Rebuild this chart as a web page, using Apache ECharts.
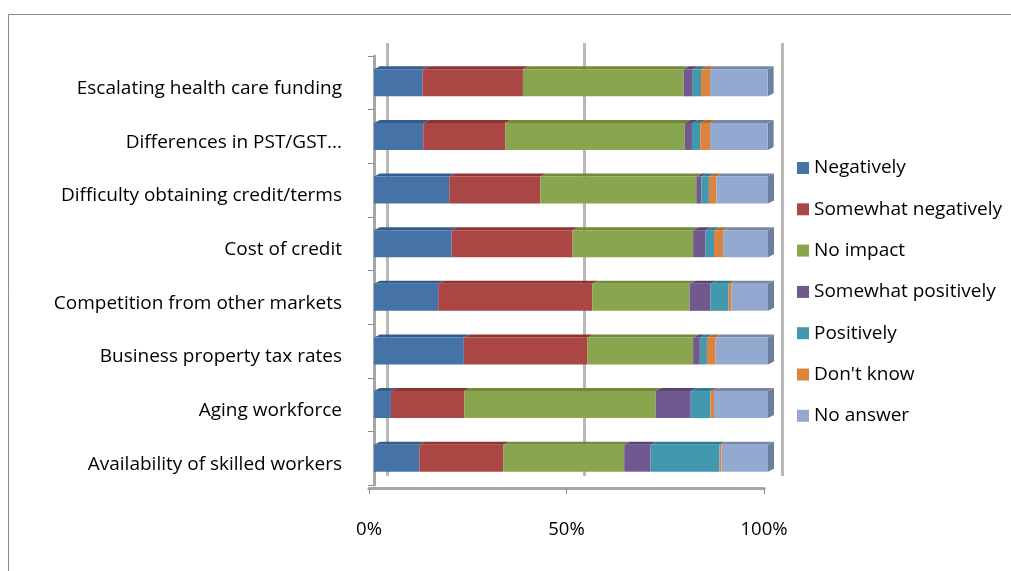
<!DOCTYPE html>
<html>
<head>
<meta charset="utf-8">
<script src="https://cdn.jsdelivr.net/npm/echarts@6/dist/echarts.min.js"></script>
<style>
html,body{margin:0;padding:0;background:#fff;}
#main{width:1011px;height:571px;}
</style>
</head>
<body>
<div id="main"></div>
<script>
// categories, top to bottom
var factors = ['Escalating health care funding', 'Differences in PST/GST...', 'Difficulty obtaining credit/terms',
	'Cost of credit', 'Competition from other markets', 'Business property tax rates',
	'Aging workforce', 'Availability of skilled workers'];
var answerNames = ['Negatively', 'Somewhat negatively', 'No impact', 'Somewhat positively', 'Positively', "Don't know", 'No answer'];

// share of answers (%), same order as factors
var negatively  = [12.3, 12.5, 19.1, 19.7, 16.3, 22.8,  4.3, 11.5];
var somewhatNeg = [25.5, 20.8, 23.1, 30.7, 39.1, 31.4, 18.6, 21.3];
var noImpact    = [40.8, 45.6, 39.6, 30.6, 24.7, 26.8, 48.6, 30.7];
var somewhatPos = [ 2.3,  1.8,  1.3,  3.1,  5.3,  1.7,  8.9,  6.7];
var positively  = [ 2.1,  2.1,  1.9,  2.2,  4.6,  1.8,  5.0, 17.5];
var dontKnow    = [ 2.3,  2.5,  1.9,  2.3,  0.7,  2.2,  0.9,  0.5];
var noAnswer    = [14.6, 14.6, 13.1, 11.4,  9.3, 13.3, 13.7, 11.8];

var xTicks = [0, 50, 100];

var colors = ['#4572A7', '#AA4643', '#89A54E', '#71588F', '#4198AF', '#DB843D', '#93A9CF'];
var topColors = ['#345d8c', '#8c3532', '#6f8a3a', '#5a4474', '#2f7d92', '#b96a2a', '#7487aa'];
var allData = [negatively, somewhatNeg, noImpact, somewhatPos, positively, dontKnow, noAnswer];

var font = '"Open Sans", sans-serif';
var barH = 27, depthX = 6, depthY = 3;

var myChart = echarts.init(document.getElementById('main'));

var series = [];
var running = factors.map(function () { return 0; });
for (var i = 0; i < allData.length; i++) {
	series.push({
		name: answerNames[i],
		type: 'bar',
		stack: 'all',
		barWidth: barH,
		z: 3,
		itemStyle: {color: colors[i]},
		data: allData[i]
	});
	// 3d top (and right end) faces
	var faces = [];
	for (var j = 0; j < factors.length; j++) {
		faces.push([j, running[j], running[j] + allData[i][j]]);
		running[j] += allData[i][j];
	}
	(function (idx) {
		series.push({
			type: 'custom',
			z: 2,
			silent: true,
			encode: {x: [1, 2], y: 0},
			data: faces,
			renderItem: function (params, api) {
				var j = api.value(0);
				var a = api.coord([api.value(1), j]);
				var b = api.coord([api.value(2), j]);
				var yTop = a[1] - barH / 2;
				var kids = [{
					type: 'polygon',
					shape: {points: [[a[0], yTop], [b[0], yTop], [b[0] + depthX, yTop - depthY], [a[0] + depthX, yTop - depthY]]},
					style: {fill: topColors[idx]}
				}];
				if (idx === allData.length - 1) {
					kids.push({
						type: 'polygon',
						shape: {points: [[b[0], yTop], [b[0] + depthX, yTop - depthY], [b[0] + depthX, yTop + barH - depthY], [b[0], yTop + barH]]},
						style: {fill: '#6d7f9e'}
					});
				}
				return {type: 'group', children: kids};
			}
		});
	})(i);
}

var option = {
	animation: false,
	color: colors,
	graphic: [
		{
			type: 'rect',
			shape: {x: 8.5, y: 14.5, width: 1100, height: 700},
			style: {fill: 'none', stroke: '#8a8a8a', lineWidth: 1},
			z: -10
		}
	],
	legend: {
		orient: 'vertical',
		left: 792,
		top: 150,
		itemWidth: 12,
		itemHeight: 12,
		itemGap: 15.3,
		icon: 'rect',
		data: answerNames,
		textStyle: {fontFamily: font, fontSize: 19, color: '#000', lineHeight: 26}
	},
	grid: [
		// bars
		{left: 374, top: 56, width: 394, height: 429},
		// floor / x labels
		{left: 369, top: 56, width: 395, height: 432},
		// back wall
		{left: 387, top: 43, width: 395, height: 433}
	],
	xAxis: [
		{
			gridIndex: 0, type: 'value', min: 0, max: 100,
			axisLine: {show: false}, axisTick: {show: false}, axisLabel: {show: false}, splitLine: {show: false}
		},
		{
			gridIndex: 1, type: 'value', min: 0, max: 100, interval: 50,
			axisLine: {show: true, lineStyle: {color: '#a6a6a6', width: 3}},
			axisTick: {show: true, length: 6, lineStyle: {color: '#8c8c8c', width: 1}},
			axisLabel: {
				margin: 32, fontFamily: font, fontSize: 18.5, color: '#000',
				formatter: function (v) { return xTicks.indexOf(v) >= 0 ? v + '%' : ''; }
			},
			splitLine: {show: false}
		},
		{
			gridIndex: 2, type: 'value', min: 0, max: 100, interval: 50,
			axisLine: {show: false}, axisTick: {show: false}, axisLabel: {show: false},
			splitLine: {show: true, lineStyle: {color: '#b8b8b8', width: 3}}
		}
	],
	yAxis: [
		{
			gridIndex: 0, type: 'category', data: factors, inverse: true,
			offset: 6,
			axisLine: {show: true, lineStyle: {color: '#a6a6a6', width: 3}},
			axisTick: {show: true, length: 6, lineStyle: {color: '#8c8c8c', width: 1}},
			axisLabel: {margin: 26, fontFamily: font, fontSize: 19, color: '#000', verticalAlign: 'top', lineHeight: 12}
		},
		{
			gridIndex: 1, type: 'value', show: false
		},
		{
			gridIndex: 2, type: 'value', show: false
		}
	],
	series: series
};

myChart.setOption(option);
</script>
</body>
</html>
